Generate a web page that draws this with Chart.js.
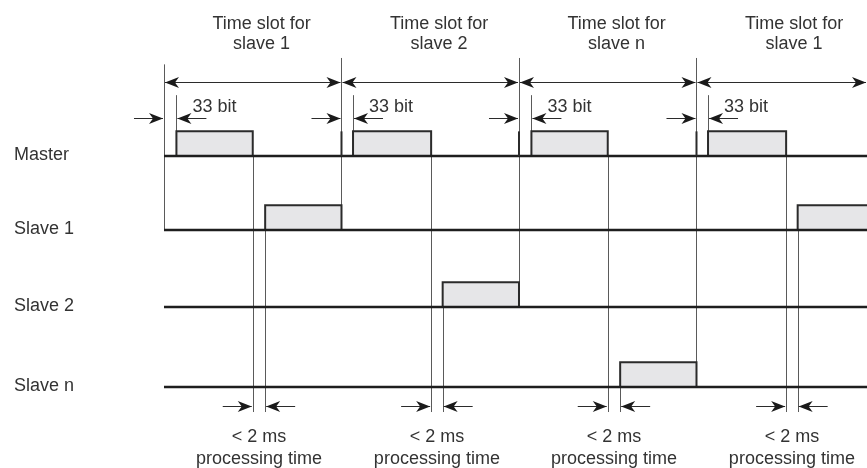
<!DOCTYPE html>
<html>
<head>
<meta charset="utf-8">
<script src="https://cdn.jsdelivr.net/npm/chart.js@4.4.1/dist/chart.umd.min.js"></script>
<style>
  html, body { margin: 0; background: #fff; }
</style>
</head>
<body>
<canvas id="chart" width="867" height="468"></canvas>
<script>
// lanes of the timing diagram, top to bottom
var lanes = ['Master', 'Slave 1', 'Slave 2', 'Slave n'];
var laneBase = [3, 2.04, 1.04, 0];
var pulseHigh = 0.32;

// time axis: one slot = 100 units
var slotStarts = [0, 100, 200, 300];
var slotNames = ['slave 1', 'slave 2', 'slave n', 'slave 1'];
var slotTitle = 'Time slot for';

// master telegrams [start, end]
var masterTx = [[7, 50], [106.5, 150.5], [207, 250], [306.5, 350.5]];
// slave answers [lane, start, end]
var slaveTx = [[1, 57, 100], [2, 157, 200], [3, 257, 300], [1, 357, 400]];

var bitLabel = '33 bit';
var procLabel = ['< 2 ms', 'processing time'];

var FONT = '18px "Liberation Sans", Arial, sans-serif';
var TXT = '#333';

function pulse(lane, s, e) {
  var b = laneBase[lane];
  return {
    data: [{x: s, y: b}, {x: s, y: b + pulseHigh}, {x: e, y: b + pulseHigh}, {x: e, y: b}],
    borderColor: '#2b2b2b',
    borderWidth: 2,
    backgroundColor: '#e6e6e8',
    fill: {value: b}
  };
}

var datasets = [];
lanes.forEach(function (name, i) {
  datasets.push({
    data: [{x: 0, y: laneBase[i]}, {x: 400, y: laneBase[i]}],
    borderColor: '#1e1e1e',
    borderWidth: 2.5,
    fill: false
  });
});
masterTx.forEach(function (t) { datasets.push(pulse(0, t[0], t[1])); });
slaveTx.forEach(function (t) { datasets.push(pulse(t[0], t[1], t[2])); });

function head(ctx, x, y, dir) {
  ctx.beginPath();
  ctx.moveTo(x, y);
  ctx.lineTo(x - dir * 14, y - 5.5);
  ctx.lineTo(x - dir * 10, y);
  ctx.lineTo(x - dir * 14, y + 5.5);
  ctx.closePath();
  ctx.fill();
}

function vline(ctx, x, y1, y2) {
  ctx.beginPath();
  ctx.moveTo(Math.round(x) + 0.5, y1);
  ctx.lineTo(Math.round(x) + 0.5, y2);
  ctx.stroke();
}

var guides = {
  id: 'guides',
  beforeDatasetsDraw: function (chart) {
    var ctx = chart.ctx, X = chart.scales.x, Y = chart.scales.y;
    ctx.save();
    ctx.strokeStyle = '#5a5a5a';
    ctx.lineWidth = 1;
    // slot boundaries
    slotStarts.forEach(function (s, i) {
      var lane = slaveTx[Math.max(i - 1, 0)][0];
      vline(ctx, X.getPixelForValue(s), Y.getPixelForValue(i === 0 ? 4.19 : 4.273), Y.getPixelForValue(laneBase[lane]));
    });
    // end of master telegram
    masterTx.forEach(function (t) {
      vline(ctx, X.getPixelForValue(t[1]), Y.getPixelForValue(laneBase[0]), Y.getPixelForValue(-0.325));
      vline(ctx, X.getPixelForValue(t[0]), Y.getPixelForValue(3.79), Y.getPixelForValue(laneBase[0] + pulseHigh));
    });
    // start of slave answer
    slaveTx.forEach(function (t) {
      vline(ctx, X.getPixelForValue(t[1]), Y.getPixelForValue(laneBase[t[0]] + pulseHigh), Y.getPixelForValue(-0.325));
    });
    ctx.restore();
  },
  afterDatasetsDraw: function (chart) {
    var ctx = chart.ctx, X = chart.scales.x, Y = chart.scales.y, area = chart.chartArea;
    ctx.save();
    ctx.strokeStyle = '#2b2b2b';
    ctx.fillStyle = '#1a1a1a';

    // short dark marks on master line at slot starts
    ctx.lineWidth = 2;
    slotStarts.slice(1).forEach(function (s) {
      var x = X.getPixelForValue(s);
      ctx.beginPath();
      ctx.moveTo(x, Y.getPixelForValue(laneBase[0] + pulseHigh));
      ctx.lineTo(x, Y.getPixelForValue(laneBase[0]));
      ctx.stroke();
    });

    ctx.lineWidth = 1;
    // slot length arrows
    var ya = Math.round(Y.getPixelForValue(3.96)) + 0.5;
    slotStarts.forEach(function (s) {
      var a = X.getPixelForValue(s) + 1;
      var b = Math.min(X.getPixelForValue(s + 100) - 1, area.right - 1);
      ctx.beginPath(); ctx.moveTo(a, ya); ctx.lineTo(b, ya); ctx.stroke();
      head(ctx, a, ya, -1);
      head(ctx, b, ya, 1);
    });

    // 33 bit arrows
    var yb = Math.round(Y.getPixelForValue(3.494)) + 0.5;
    masterTx.forEach(function (t, i) {
      var a = X.getPixelForValue(slotStarts[i]) - 1;
      var b = X.getPixelForValue(t[0]) + 1;
      ctx.beginPath(); ctx.moveTo(a - 29, yb); ctx.lineTo(a, yb); ctx.stroke();
      head(ctx, a, yb, 1);
      ctx.beginPath(); ctx.moveTo(b, yb); ctx.lineTo(b + 29, yb); ctx.stroke();
      head(ctx, b, yb, -1);
    });

    // processing time arrows
    var yc = Math.round(Y.getPixelForValue(-0.247)) + 0.5;
    masterTx.forEach(function (t, i) {
      var a = X.getPixelForValue(t[1]) - 1;
      var b = X.getPixelForValue(slaveTx[i][1]) + 1;
      ctx.beginPath(); ctx.moveTo(a - 29, yc); ctx.lineTo(a, yc); ctx.stroke();
      head(ctx, a, yc, 1);
      ctx.beginPath(); ctx.moveTo(b, yc); ctx.lineTo(b + 29, yc); ctx.stroke();
      head(ctx, b, yc, -1);
    });

    // texts
    ctx.font = FONT;
    ctx.fillStyle = TXT;
    ctx.textBaseline = 'middle';
    ctx.textAlign = 'left';
    lanes.forEach(function (name, i) {
      ctx.fillText(name, 14, Y.getPixelForValue(laneBase[i]) - 1);
    });
    masterTx.forEach(function (t) {
      ctx.fillText(bitLabel, X.getPixelForValue(t[0]) + 16, Y.getPixelForValue(3.63));
    });
    ctx.textAlign = 'center';
    slotStarts.forEach(function (s, i) {
      var x = X.getPixelForValue(s + 55);
      ctx.fillText(slotTitle, x, Y.getPixelForValue(4.72));
      ctx.fillText(slotNames[i], x, Y.getPixelForValue(4.46));
    });
    masterTx.forEach(function (t, i) {
      var x = (X.getPixelForValue(t[1]) + X.getPixelForValue(slaveTx[i][1])) / 2;
      ctx.fillText(procLabel[0], x, Y.getPixelForValue(-0.649));
      ctx.fillText(procLabel[1], x, Y.getPixelForValue(-0.935));
    });
    ctx.restore();
  }
};

new Chart(document.getElementById('chart'), {
  type: 'line',
  data: { datasets: datasets },
  options: {
    responsive: false,
    animation: false,
    events: [],
    layout: { padding: 0 },
    elements: {
      point: { radius: 0 },
      line: { tension: 0, borderJoinStyle: 'miter', borderCapStyle: 'butt' }
    },
    plugins: { legend: { display: false }, tooltip: { enabled: false } },
    scales: {
      x: { type: 'linear', display: false, min: -92.39, max: 396.06 },
      y: { type: 'linear', display: false, min: -1.052, max: 5.026 }
    }
  },
  plugins: [guides]
});
</script>
</body>
</html>
